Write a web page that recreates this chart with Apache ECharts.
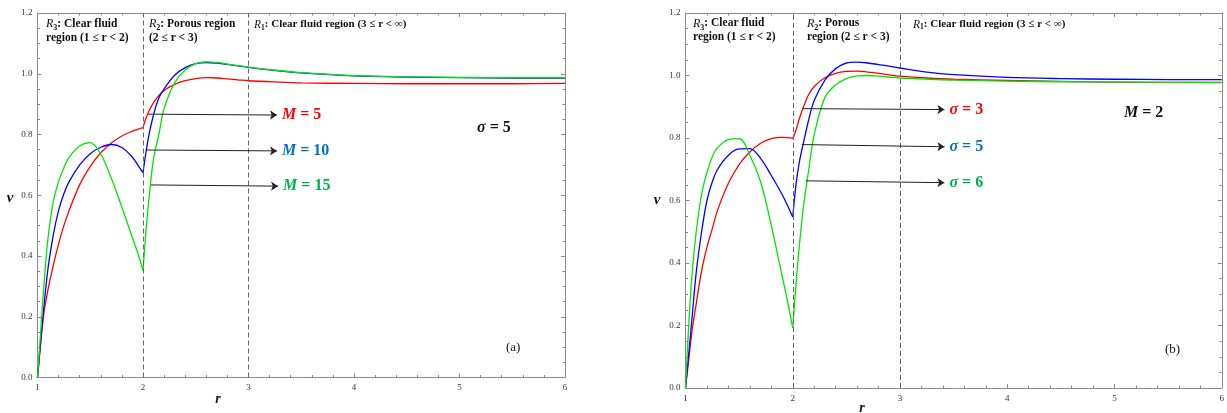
<!DOCTYPE html>
<html><head><meta charset="utf-8">
<script src="https://cdn.jsdelivr.net/npm/echarts@6/dist/echarts.min.js"></script>
<style>html,body{margin:0;padding:0;background:#fff}#c{width:1227px;height:413px}</style>
</head><body><div id="c"></div>
<script>
// ---------- data ----------
const rGrid = [1,1.03,1.06,1.1,1.15,1.2,1.25,1.3,1.4,1.5,1.6,1.7,1.8,1.9,1.95,2,
               2.03,2.06,2.1,2.15,2.2,2.3,2.4,2.5,2.6,2.7,2.8,2.9,3,3.25,3.5,4,4.5,5,5.5,6];
// panel (a): sigma = 5
const vM5  = [0,0.11,0.21,0.29,0.37,0.44,0.5,0.55,0.635,0.695,0.74,0.772,0.795,0.811,0.817,0.823,
              0.855,0.88,0.905,0.928,0.945,0.965,0.977,0.984,0.987,0.986,0.983,0.98,0.977,0.973,0.97,0.968,0.967,0.967,0.967,0.968];
const vM10 = [0,0.12,0.23,0.36,0.47,0.55,0.605,0.645,0.7,0.737,0.758,0.767,0.757,0.725,0.7,0.674,
              0.745,0.805,0.865,0.92,0.95,0.995,1.02,1.033,1.037,1.035,1.031,1.026,1.021,1.011,1.003,0.993,0.989,0.987,0.986,0.986];
const vM15 = [0,0.15,0.3,0.46,0.58,0.645,0.69,0.725,0.762,0.773,0.735,0.656,0.56,0.46,0.41,0.352,
              0.49,0.6,0.72,0.8,0.885,0.97,1.012,1.033,1.039,1.037,1.032,1.027,1.022,1.012,1.004,0.994,0.99,0.988,0.987,0.987];
// panel (b): M = 2
const vS3 = [0,0.09,0.18,0.27,0.375,0.45,0.51,0.57,0.655,0.715,0.755,0.783,0.798,0.802,0.801,0.799,
             0.825,0.86,0.9,0.94,0.965,0.993,1.007,1.013,1.014,1.011,1.007,1.002,0.998,0.992,0.988,0.984,0.981,0.979,0.978,0.978];
const vS5 = [0,0.11,0.22,0.37,0.5,0.6,0.66,0.7,0.745,0.765,0.766,0.735,0.68,0.62,0.585,0.547,
             0.65,0.72,0.785,0.86,0.92,0.985,1.022,1.04,1.043,1.04,1.035,1.03,1.024,1.011,1.003,0.994,0.99,0.988,0.987,0.987];
const vS6 = [0,0.2,0.36,0.5,0.62,0.69,0.74,0.77,0.795,0.798,0.745,0.66,0.52,0.36,0.28,0.192,
             0.33,0.45,0.58,0.7,0.81,0.93,0.97,0.99,0.999,1.0,0.998,0.995,0.992,0.988,0.985,0.982,0.98,0.979,0.978,0.977];

const xTickLabels = ['1','2','3','4','5','6'];
const yTickLabels = ['0.0','0.2','0.4','0.6','0.8','1.0','1.2'];
const regionBounds = [2, 3];
const namesA = ['M = 5', 'M = 10', 'M = 15'];
const namesB = ['σ = 3', 'σ = 5', 'σ = 6'];
// arrow annotations (data units): [start, end]
const arrowsA = [[[2.047,0.867],[3.27,0.864]], [[2.028,0.749],[3.27,0.746]], [[2.076,0.634],[3.28,0.630]]];
const arrowsB = [[[2.093,0.894],[3.414,0.891]], [[2.084,0.779],[3.414,0.772]], [[2.121,0.663],[3.414,0.657]]];

// ---------- styling ----------
const lineColors = ['#ff0000', '#0000ff', '#00e600'];
const labelColors = ['#ff0000', '#0070c0', '#00b050'];
const frameColor = '#8a8a8a';
const serif = 'Liberation Serif';
const splitIdx = rGrid.indexOf(2);

function seg(arr, a, b) {
  const out = [];
  for (let i = a; i <= b; i++) out.push([rGrid[i], arr[i]]);
  return out;
}
function curveSeries(arr, color, gi, name) {
  const base = {type:'line', xAxisIndex: gi*2, yAxisIndex: gi*2, name: name, showSymbol:false, symbol:'none',
    smooth:0.35, lineStyle:{color:color, width:1.3}, itemStyle:{color:color}, emphasis:{disabled:true}, silent:true};
  return [
    Object.assign({}, base, {data: seg(arr, 0, splitIdx)}),
    Object.assign({}, base, {data: seg(arr, splitIdx, rGrid.length-1)})
  ];
}
function axisX(gi, pos) {
  return {gridIndex:gi, type:'value', min:1, max:6, interval:1, position:pos,
    axisLine:{show:true, onZero:false, lineStyle:{color:frameColor, width:1}},
    axisTick:{show:true, inside:true, length:4, lineStyle:{color:frameColor}},
    minorTick:{show:true, splitNumber:5, length:2.5, lineStyle:{color:frameColor}},
    splitLine:{show:false}, minorSplitLine:{show:false},
    axisLabel:{show: pos==='bottom', fontFamily:serif, fontSize:9, color:'#333', margin:6,
      formatter: v => xTickLabels[Math.round(v)-1]}};
}
function axisY(gi, pos) {
  return {gridIndex:gi, type:'value', min:0, max:1.2, interval:0.2, position:pos,
    axisLine:{show:true, onZero:false, lineStyle:{color:frameColor, width:1}},
    axisTick:{show:true, inside:true, length:4, lineStyle:{color:frameColor}},
    minorTick:{show:true, splitNumber:4, length:2.5, lineStyle:{color:frameColor}},
    splitLine:{show:false}, minorSplitLine:{show:false},
    axisLabel:{show: pos==='left', fontFamily:serif, fontSize:9, color:'#333', margin:5,
      formatter: v => yTickLabels[Math.round(v*5)]}};
}
function regionLines(gi) {
  return {type:'line', xAxisIndex: gi*2, yAxisIndex: gi*2, data:[], silent:true,
    markLine:{silent:true, symbol:['none','none'], animation:false,
      lineStyle:{color:'#666', width:1, type:[5,3]}, label:{show:false},
      data: regionBounds.map(b => ({xAxis:b}))}};
}
const labelRich = {
  v: {fontFamily:serif, fontStyle:'italic', fontWeight:'bold', fontSize:16},
  n: {fontFamily:serif, fontWeight:'bold', fontSize:16}
};
function arrowSeries(gi, arrows, names) {
  return {type:'line', xAxisIndex: gi*2, yAxisIndex: gi*2, data:[], silent:true,
    markLine:{silent:true, symbol:['none','arrow'], symbolSize:7, animation:false, precision:3,
      lineStyle:{color:'#222', width:1, type:'solid'},
      data: arrows.map((a, i) => {
        const parts = names[i].split(' ');
        const col = labelColors[i];
        return [
          {coord:a[0]},
          {coord:a[1], label:{show:true, position:'end', distance:5,
            formatter: '{v|' + parts[0] + '}{n| ' + parts.slice(1).join(' ') + '}',
            rich:{v:Object.assign({color:col}, labelRich.v), n:Object.assign({color:col}, labelRich.n)}}}
        ];
      })}};
}

const series = [];
series.push(regionLines(0), regionLines(1));
[vM5, vM10, vM15].forEach((a, i) => series.push(...curveSeries(a, lineColors[i], 0, namesA[i])));
[vS3, vS5, vS6].forEach((a, i) => series.push(...curveSeries(a, lineColors[i], 1, namesB[i])));
series.push(arrowSeries(0, arrowsA, namesA), arrowSeries(1, arrowsB, namesB));

// ---------- text ----------
const regRich = {
  R: {fontFamily:serif, fontStyle:'italic', fontSize:12, fill:'#111', verticalAlign:'top', lineHeight:14},
  s: {fontFamily:serif, fontSize:8, fill:'#111', verticalAlign:'bottom', lineHeight:14, fontWeight:'bold'},
  b: {fontFamily:serif, fontWeight:'bold', fontSize:11.5, fill:'#111', verticalAlign:'top', lineHeight:14},
  R2: {fontFamily:serif, fontStyle:'italic', fontSize:11.5, fill:'#111', verticalAlign:'top', lineHeight:13},
  s2: {fontFamily:serif, fontSize:7.5, fill:'#111', verticalAlign:'bottom', lineHeight:13, fontWeight:'bold'},
  b2: {fontFamily:serif, fontWeight:'bold', fontSize:11, fill:'#111', verticalAlign:'top', lineHeight:13}
};
function t(x, y, text, extra) {
  return {type:'text', x:x, y:y, silent:true,
    style:Object.assign({text:text, rich:regRich, verticalAlign:'middle', align:'left', fill:'#111'}, extra||{})};
}
const mathRich = {v:{fontFamily:serif, fontStyle:'italic', fontWeight:'bold', fontSize:16, fill:'#111'},
                  n:{fontFamily:serif, fontWeight:'bold', fontSize:16, fill:'#111'}};
const graphics = [
  t(46, 25, '{R|R}{s|3}{b|: Clear fluid}'), t(46, 39, '{b|region (1 ≤ r < 2)}'),
  t(149, 25, '{R|R}{s|2}{b|: Porous region}'), t(149, 39, '{b|(2 ≤ r < 3)}'),
  t(254, 25.5, '{R2|R}{s2|1}{b2|: Clear fluid region (3 ≤ r < ∞)}'),
  t(693, 24.5, '{R|R}{s|3}{b|: Clear fluid}'), t(693, 38.5, '{b|region (1 ≤ r < 2)}'),
  t(807, 24.5, '{R|R}{s|2}{b|: Porous}'), t(807, 38.5, '{b|region (2 ≤ r < 3)}'),
  t(913, 25, '{R2|R}{s2|1}{b2|: Clear fluid region (3 ≤ r < ∞)}'),
  t(477, 128, '{v|σ}{n| = 5}', {rich:mathRich}),
  t(1124, 113, '{v|M}{n| = 2}', {rich:mathRich}),
  t(506, 348, '(a)', {font:'13px "Liberation Serif"'}),
  t(1165, 350, '(b)', {font:'13px "Liberation Serif"'}),
  t(10, 198, 'v', {font:'italic bold 15px "Liberation Serif"', align:'center'}),
  t(657, 200, 'v', {font:'italic bold 15px "Liberation Serif"', align:'center'}),
  t(218, 399, 'r', {font:'italic bold 14px "Liberation Serif"', align:'center'}),
  t(862, 408, 'r', {font:'italic bold 14px "Liberation Serif"', align:'center'})
];

const chart = echarts.init(document.getElementById('c'), null, {renderer:'canvas'});
chart.setOption({
  animation:false,
  backgroundColor:'#fff',
  grid:[
    {left:37.5, right:662, top:13, bottom:35.5, containLabel:false},
    {left:685.5, right:4, top:13, bottom:25, containLabel:false}
  ],
  xAxis:[axisX(0,'bottom'), axisX(0,'top'), axisX(1,'bottom'), axisX(1,'top')],
  yAxis:[axisY(0,'left'), axisY(0,'right'), axisY(1,'left'), axisY(1,'right')],
  series: series,
  graphic: graphics
});
</script></body></html>
